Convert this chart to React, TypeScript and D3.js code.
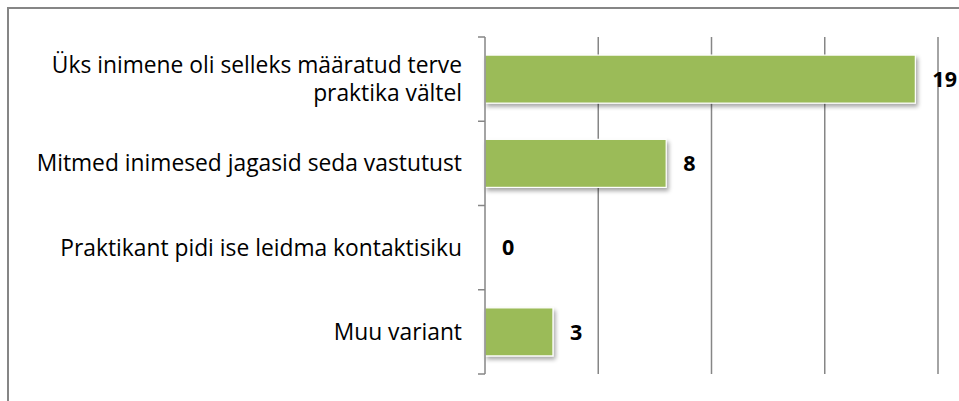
import React from "react";
import * as d3 from "d3";

const categories: string[][] = [
  ["Üks inimene oli selleks määratud terve", "praktika vältel"],
  ["Mitmed inimesed jagasid seda vastutust"],
  ["Praktikant pidi ise leidma kontaktisiku"],
  ["Muu variant"],
];
const values: number[] = [19, 8, 0, 3];
const gridTicks: number[] = [5, 10, 15, 20];

const W = 959;
const H = 401;
const FONT = "'Open Sans', 'Noto Sans', sans-serif";

export default function App() {
  const x = d3.scaleLinear().domain([0, 20]).range([485, 938]);
  const y = d3
    .scaleBand<number>()
    .domain(d3.range(categories.length))
    .range([37, 374])
    .paddingInner(0.43)
    .paddingOuter(0.215);
  const bandEdges = d3.range(categories.length + 1).map((i) => 37 + (i * (374 - 37)) / categories.length);
  const bandCenter = (i: number) => (y(i) as number) + y.bandwidth() / 2;

  return (
    <svg width={W} height={H} style={{ position: "absolute", left: 0, top: 0 }}>
      <defs>
        <filter id="sh" x="-10%" y="-20%" width="130%" height="160%">
          <feGaussianBlur in="SourceAlpha" stdDeviation="2" />
          <feOffset dx="2" dy="3" result="b" />
          <feComponentTransfer>
            <feFuncA type="linear" slope="0.35" />
          </feComponentTransfer>
          <feMerge>
            <feMergeNode />
            <feMergeNode in="SourceGraphic" />
          </feMerge>
        </filter>
      </defs>
      <rect x={0} y={0} width={W} height={H} fill="#fff" />
      <rect x={8} y={8} width={1200} height={1200} fill="none" stroke="#868686" strokeWidth={2} />
      {gridTicks.map((t) => (
        <line key={t} x1={x(t)} x2={x(t)} y1={37} y2={374} stroke="#868686" strokeWidth={1.5} />
      ))}
      {values.map((v, i) =>
        v > 0 ? (
          <rect
            key={i}
            x={x(0)}
            y={y(i)}
            width={x(v) - x(0)}
            height={y.bandwidth()}
            fill="#9BBB59"
            stroke="#fff"
            strokeWidth={1.2}
            filter="url(#sh)"
          />
        ) : null
      )}
      <line x1={x(0)} x2={x(0)} y1={37} y2={374} stroke="#868686" strokeWidth={1.5} />
      {bandEdges.map((e, i) => (
        <line key={i} x1={x(0) - 7} x2={x(0)} y1={e} y2={e} stroke="#868686" strokeWidth={1.5} />
      ))}
      {categories.map((lines, i) => (
        <text key={i} x={462} textAnchor="end" fontFamily={FONT} fontSize={22.8} fill="#000">
          {lines.map((l, j) => (
            <tspan
              key={j}
              x={462}
              y={bandCenter(i) + (j - (lines.length - 1) / 2) * 28.5}
              dy="0.35em"
            >
              {l}
            </tspan>
          ))}
        </text>
      ))}
      {values.map((v, i) => (
        <text
          key={i}
          x={x(v) + 17}
          y={bandCenter(i)}
          dy="0.36em"
          fontFamily={FONT}
          fontSize={21.5}
          fontWeight="bold"
          fill="#000"
        >
          {v}
        </text>
      ))}
    </svg>
  );
}
